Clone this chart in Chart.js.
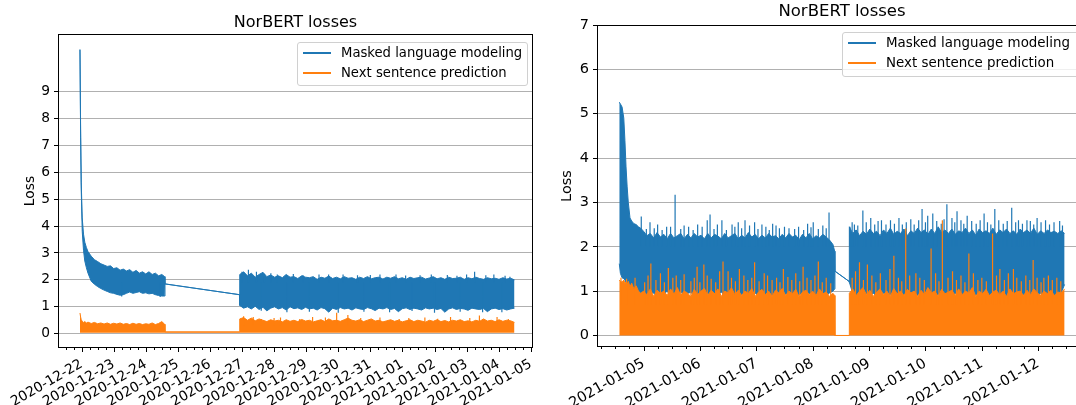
<!DOCTYPE html>
<html>
<head>
<meta charset="utf-8">
<script src="https://cdn.jsdelivr.net/npm/chart.js@4.4.0/dist/chart.umd.min.js"></script>
<style>
  body { margin: 0; background: #fff; font-family: 'DejaVu Sans', sans-serif; }
  #wrap { position: relative; width: 1076px; height: 405px; overflow: hidden; }
  #leftBox { position: absolute; left: 0; top: 0; }
  #rightBox { position: absolute; left: 540px; top: 0; }
  .legend { position: absolute; background: rgba(255,255,255,0.8); border: 1px solid #d0d0d0; border-radius: 3px;
            color: #000; box-sizing: border-box; }
  .legend div { position: relative; height: 20px; line-height: 20px; padding-left: 43px; white-space: nowrap; }
  .legend span { position: absolute; left: 5px; top: 9px; width: 28px; height: 2px; }
</style>
</head>
<body>
<div id="wrap">
  <div id="leftBox"><canvas id="leftChart" width="540" height="405"></canvas></div>
  <div id="rightBox"><canvas id="rightChart" width="560" height="405"></canvas></div>
  <div class="legend" style="left:297px;top:42px;width:231px;height:44px;font-size:13.2px;">
    <div><span style="background:#1f77b4"></span>Masked language modeling</div>
    <div><span style="background:#ff7f0e"></span>Next sentence prediction</div>
  </div>
  <div class="legend" style="left:842px;top:32px;width:250px;height:45px;font-size:13.4px;">
    <div><span style="background:#1f77b4"></span>Masked language modeling</div>
    <div><span style="background:#ff7f0e"></span>Next sentence prediction</div>
  </div>
</div>

<script>
const BLUE = '#1f77b4';
const ORANGE = '#ff7f0e';

// ---------- left panel: x = days after 2020-12-22 00:00 ----------
const leftDateLabels = ['2020-12-22', '2020-12-23', '2020-12-24', '2020-12-25', '2020-12-26', '2020-12-27',
  '2020-12-28', '2020-12-29', '2020-12-30', '2020-12-31', '2021-01-01', '2021-01-02', '2021-01-03',
  '2021-01-04', '2021-01-05'];
const leftYTicks = [0, 1, 2, 3, 4, 5, 6, 7, 8, 9];

const leftSeg1Days = [-0.05, -0.03, -0.01, 0.02, 0.06, 0.1, 0.15, 0.2, 0.3, 0.4, 0.5, 0.6, 0.7, 0.8, 0.9, 1.0,
  1.1, 1.2, 1.3, 1.4, 1.5, 1.6, 1.7, 1.8, 1.9, 2.0, 2.1, 2.2, 2.3, 2.4, 2.5, 2.59];
const leftSeg1MlmHi = [10.55, 7.6, 5.6, 4.3, 3.7, 3.4, 3.2, 3.05, 2.88, 2.75, 2.68, 2.6, 2.55, 2.5, 2.52, 2.42,
  2.45, 2.36, 2.4, 2.33, 2.38, 2.28, 2.35, 2.25, 2.3, 2.22, 2.3, 2.2, 2.25, 2.15, 2.2, 2.12];
const leftSeg1MlmLo = [10.55, 7.3, 5.3, 3.8, 3.1, 2.7, 2.45, 2.25, 1.95, 1.84, 1.75, 1.68, 1.62, 1.57, 1.52, 1.5,
  1.46, 1.43, 1.45, 1.5, 1.55, 1.5, 1.53, 1.56, 1.5, 1.52, 1.48, 1.5, 1.45, 1.42, 1.4, 1.4];
const leftSeg1NspHi = [0.77, 0.62, 0.52, 0.46, 0.42, 0.45, 0.4, 0.43, 0.38, 0.42, 0.37, 0.4, 0.36, 0.4, 0.35, 0.39,
  0.36, 0.4, 0.35, 0.38, 0.34, 0.39, 0.35, 0.38, 0.34, 0.37, 0.35, 0.4, 0.34, 0.38, 0.45, 0.35];

const leftBridgeDays = [2.6, 4.92];
const leftMlmBridge = [1.85, 1.45];
const leftNspBridge = [0.07, 0.07];

const leftSeg2Start = 4.93, leftSeg2Step = 0.1206;
const leftSeg2MlmHi = [2.2, 2.3, 2.15, 2.25, 2.1, 2.2, 2.28, 2.12, 2.18, 2.1,
  2.15, 2.08, 2.2, 2.1, 2.12, 2.05, 2.15, 2.1, 2.08, 2.12,
  2.02, 2.1, 2.06, 2.14, 2.05, 2.1, 2.04, 2.12, 2.06, 2.08,
  2.02, 2.1, 2.05, 2.12, 2.04, 2.08, 2.1, 2.03, 2.1, 2.06,
  2.12, 2.04, 2.08, 2.02, 2.1, 2.05, 2.08, 2.1, 2.03, 2.07,
  2.12, 2.04, 2.08, 2.02, 2.1, 2.05, 2.06, 2.1, 2.02, 2.08,
  2.04, 2.1, 2.05, 2.02, 2.08, 2.04, 2.06, 2.02, 2.08, 2.03,
  2.06, 2.0];
const leftSeg2MlmLo = [1.05, 0.95, 1.0, 0.92, 1.02, 0.9, 0.98, 0.85, 0.95, 1.0,
  0.92, 0.97, 0.88, 1.0, 0.93, 0.96, 0.9, 0.98, 0.92, 0.95,
  0.88, 0.97, 0.93, 0.8, 0.95, 0.9, 0.97, 0.92, 0.95, 0.88,
  0.96, 0.92, 0.9, 0.97, 0.93, 0.86, 0.95, 0.92, 0.97, 0.9,
  0.94, 0.82, 0.93, 0.96, 0.9, 0.95, 0.92, 0.88, 0.96, 0.92,
  0.95, 0.9, 0.94, 0.8, 0.92, 0.96, 0.9, 0.94, 0.92, 0.87,
  0.95, 0.92, 0.9, 0.94, 0.82, 0.92, 0.95, 0.9, 0.93, 0.88,
  0.92, 0.95];
const leftSeg2NspHi = [0.55, 0.6, 0.5, 0.58, 0.48, 0.55, 0.5, 0.45, 0.52, 0.47,
  0.5, 0.44, 0.52, 0.46, 0.5, 0.45, 0.53, 0.47, 0.5, 0.44,
  0.48, 0.52, 0.45, 0.55, 0.48, 0.5, 0.46, 0.52, 0.58, 0.5,
  0.47, 0.52, 0.45, 0.5, 0.55, 0.47, 0.5, 0.44, 0.48, 0.52,
  0.46, 0.5, 0.44, 0.48, 0.52, 0.45, 0.5, 0.47, 0.43, 0.5,
  0.46, 0.52, 0.45, 0.49, 0.44, 0.5, 0.47, 0.52, 0.45, 0.48,
  0.44, 0.5, 0.46, 0.55, 0.47, 0.5, 0.45, 0.52, 0.46, 0.5,
  0.48, 0.42];

// single spikes: [day, value] (up or down from the band)
const leftMlmSpikes = [[1.25, 1.38], [2.45, 1.36],
  [5.0, 2.3], [5.2, 2.38], [5.45, 2.3], [5.7, 2.22], [5.9, 2.25], [6.1, 2.2], [6.6, 2.22], [6.9, 2.18],
  [7.4, 2.2], [7.7, 2.2], [8.15, 2.2], [8.6, 2.17], [9.0, 2.18], [9.3, 2.2], [9.8, 2.2], [10.1, 2.16],
  [10.55, 2.17], [10.9, 2.2], [11.4, 2.18], [11.7, 2.15], [12.0, 2.2], [12.25, 2.3], [12.6, 2.17],
  [12.85, 2.2], [13.2, 2.15], [13.35, 2.12],
  [5.6, 0.85], [6.4, 0.8], [7.1, 0.82], [8.0, 0.78], [8.8, 0.82], [9.6, 0.8], [10.3, 0.84], [11.0, 0.78],
  [11.8, 0.82], [12.5, 0.8], [13.1, 0.8]];
const leftNspSpikes = [[5.05, 0.65], [5.35, 0.62], [5.6, 0.55], [6.0, 0.58], [6.2, 0.6], [6.8, 0.55],
  [7.2, 0.62], [7.6, 0.6], [7.95, 0.78], [8.3, 0.7], [8.7, 0.58], [9.3, 0.6], [9.9, 0.55], [10.2, 0.58],
  [10.7, 0.6], [11.1, 0.56], [11.5, 0.62], [12.1, 0.58], [12.4, 0.68], [12.95, 0.62], [13.3, 0.55]];

// ---------- right panel: x = days after 2021-01-05 00:00 ----------
const rightDateLabels = ['2021-01-05', '2021-01-06', '2021-01-07', '2021-01-08', '2021-01-09', '2021-01-10',
  '2021-01-11', '2021-01-12'];
const rightYTicks = [0, 1, 2, 3, 4, 5, 6, 7];

const rightSeg1Head = [-0.43, -0.41, -0.38, -0.35, -0.33, -0.31, -0.29, -0.27, -0.24, -0.21, -0.17, -0.13, -0.09, -0.05];
const rightSeg1Start = 0, rightSeg1Step = 0.06, rightSeg1End = 3.39;
const rightSeg1MlmHi = [5.26, 5.22, 5.15, 4.9, 4.4, 3.8, 3.35, 3.0, 2.65, 2.58, 2.52, 2.5, 2.45, 2.42,
  2.35, 2.25, 2.3, 2.2, 2.32, 2.22, 2.28, 2.18, 2.3, 2.2,
  2.25, 2.3, 2.18, 2.28, 2.2, 2.3, 2.22, 2.26, 2.18, 2.3,
  2.2, 2.28, 2.24, 2.18, 2.3, 2.2, 2.25, 2.3, 2.18, 2.26,
  2.2, 2.32, 2.22, 2.28, 2.18, 2.26, 2.2, 2.3, 2.22, 2.25,
  2.18, 2.28, 2.2, 2.3, 2.22, 2.26, 2.16, 2.28, 2.2, 2.3,
  2.18, 2.25, 2.2, 2.28, 2.22, 2.15, 2.05,
  1.9];
const rightSeg1MlmLo = [1.62, 1.4, 1.3, 1.28, 1.25, 1.2, 1.15, 1.1, 1.05, 1.0, 1.02, 0.98, 1.0, 0.95,
  0.98, 0.92, 1.0, 0.95, 0.9, 0.97, 0.93, 1.0, 0.88, 0.95,
  0.92, 0.98, 0.9, 0.95, 0.97, 0.9, 0.93, 0.98, 0.92, 0.95,
  0.88, 0.96, 0.92, 0.98, 0.9, 0.94, 0.97, 0.9, 0.95, 0.92,
  0.98, 0.9, 0.94, 0.96, 0.88, 0.95, 0.92, 0.97, 0.9, 0.94,
  0.96, 0.9, 0.93, 0.97, 0.88, 0.95, 0.92, 0.96, 0.9, 0.94,
  0.97, 0.9, 0.93, 0.95, 0.9, 0.96, 1.0,
  1.05];
const rightSeg1NspHi = [1.25, 1.22, 1.2, 1.25, 1.18, 1.2, 1.15, 1.22, 1.1, 1.18, 1.05, 1.12, 1.0, 0.95,
  1.0, 0.92, 1.05, 0.88, 1.02, 0.95, 1.0, 0.9, 1.05, 0.93,
  1.08, 0.9, 1.0, 0.96, 0.87, 1.04, 0.92, 1.0, 1.06, 0.9,
  1.02, 0.94, 1.05, 0.88, 1.0, 0.96, 1.08, 0.92, 1.02, 0.9,
  1.0, 0.95, 1.06, 0.88, 0.98, 1.04, 0.92, 1.0, 0.88, 1.02,
  0.96, 1.06, 0.9, 1.0, 0.94, 1.04, 0.87, 0.98, 1.02, 0.92,
  1.0, 0.9, 1.05, 0.94, 0.98, 0.88, 0.95,
  0.9];

const rightBridgeDays = [3.395, 3.645];
const rightMlmBridge = [1.45, 1.22];
const rightNspBridge = [0, 0];

const rightSeg2Start = 3.65, rightSeg2Step = 0.0606;
const rightSeg2MlmHi = [2.45, 2.3, 2.38, 2.25, 2.35, 2.28, 2.4, 2.3, 2.35, 2.25,
  2.38, 2.3, 2.42, 2.28, 2.35, 2.3, 2.4, 2.25, 2.36, 2.3,
  2.42, 2.32, 2.38, 2.28, 2.4, 2.3, 2.45, 2.32, 2.38, 2.3,
  2.4, 2.28, 2.36, 2.32, 2.42, 2.3, 2.38, 2.26, 2.4, 2.32,
  2.36, 2.3, 2.42, 2.28, 2.38, 2.32, 2.4, 2.3, 2.36, 2.28,
  2.4, 2.32, 2.38, 2.3, 2.42, 2.28, 2.36, 2.3, 2.38, 2.32,
  2.35, 2.3, 2.36, 2.3];
const rightSeg2MlmLo = [1.2, 0.95, 0.9, 0.97, 0.88, 0.94, 0.9, 0.96, 0.86, 0.92,
  0.95, 0.88, 0.93, 0.9, 0.96, 0.87, 0.92, 0.95, 0.88, 0.93,
  0.9, 0.96, 0.85, 0.92, 0.94, 0.88, 0.93, 0.9, 0.95, 0.87,
  0.92, 0.95, 0.88, 0.93, 0.9, 0.96, 0.86, 0.92, 0.94, 0.88,
  0.93, 0.9, 0.95, 0.87, 0.92, 0.95, 0.88, 0.93, 0.9, 0.96,
  0.87, 0.92, 0.94, 0.88, 0.93, 0.9, 0.95, 0.88, 0.92, 0.95,
  0.9, 0.93, 0.96, 1.15];
const rightSeg2NspHi = [0.95, 1.05, 0.9, 1.0, 1.08, 0.92, 1.02, 0.88, 0.98, 1.05,
  0.92, 1.0, 0.88, 1.06, 0.94, 1.0, 0.9, 1.04, 0.96, 1.0,
  0.88, 1.02, 0.92, 1.08, 0.96, 1.0, 0.88, 1.04, 0.94, 0.98,
  1.02, 0.9, 1.05, 0.92, 1.0, 0.96, 1.08, 0.88, 1.0, 0.94,
  1.04, 0.9, 0.98, 1.02, 0.92, 1.0, 0.88, 1.05, 0.94, 0.98,
  1.0, 0.9, 1.02, 0.92, 1.05, 0.96, 0.9, 1.0, 0.94, 1.02,
  0.9, 0.98, 0.96, 1.05];

const rightMlmSpikes = [[-0.04, 2.68], [0.05, 2.4], [0.115, 2.55], [0.19, 2.42], [0.25, 2.5], [0.33, 2.38],
  [0.41, 2.45], [0.48, 2.45], [0.56, 3.17], [0.66, 2.4], [0.72, 2.48], [0.8, 2.45], [0.88, 2.38], [0.96, 2.5],
  [1.04, 2.45], [1.13, 2.6], [1.18, 2.73], [1.25, 2.4], [1.31, 2.5], [1.39, 2.6], [1.47, 2.38], [1.57, 2.5],
  [1.62, 2.45], [1.68, 2.55], [1.74, 2.42], [1.8, 2.6], [1.88, 2.48], [1.97, 2.55], [2.03, 2.4], [2.1, 2.5],
  [2.17, 2.45], [2.23, 2.38], [2.29, 2.52], [2.35, 2.48], [2.41, 2.42], [2.5, 2.45], [2.58, 2.42], [2.68, 2.4],
  [2.75, 2.45], [2.84, 2.38], [2.91, 2.52], [2.97, 2.44], [3.01, 2.55], [3.1, 2.4], [3.18, 2.48], [3.24, 2.42],
  [3.29, 2.77],
  [3.66, 2.45], [3.7, 2.55], [3.74, 2.5], [3.8, 2.48], [3.89, 2.82], [3.95, 2.55], [4.03, 2.65], [4.1, 2.5],
  [4.16, 2.58], [4.22, 2.6], [4.3, 2.5], [4.38, 2.6], [4.45, 2.52], [4.53, 2.65], [4.59, 2.5], [4.66, 2.55],
  [4.74, 2.62], [4.8, 2.5], [4.88, 2.6], [4.94, 2.85], [5.0, 2.55], [5.04, 2.7], [5.13, 2.75], [5.2, 2.58],
  [5.28, 2.52], [5.33, 2.62], [5.38, 2.96], [5.47, 2.65], [5.52, 2.55], [5.56, 2.8], [5.63, 2.6], [5.68, 2.52],
  [5.74, 2.7], [5.82, 2.58], [5.9, 2.52], [5.97, 2.6], [6.04, 2.75], [6.1, 2.55], [6.16, 2.5], [6.23, 2.85],
  [6.3, 2.6], [6.38, 2.52], [6.45, 2.58], [6.53, 2.88], [6.6, 2.55], [6.65, 2.6], [6.72, 2.52], [6.8, 2.6],
  [6.86, 2.58], [6.92, 2.5], [6.98, 2.65], [7.05, 2.55], [7.13, 2.6], [7.2, 2.5], [7.28, 2.55], [7.38, 2.58],
  [7.43, 2.48]];
const rightNspSpikes = [[-0.4, 1.3], [-0.3, 1.28], [-0.15, 1.3], [0.02, 1.2], [0.08, 1.35], [0.13, 1.62],
  [0.22, 1.25], [0.3, 1.4], [0.37, 1.2], [0.44, 1.52], [0.52, 1.3], [0.58, 1.35], [0.66, 1.25], [0.72, 1.38],
  [0.84, 1.22], [0.9, 1.3], [0.95, 1.55], [1.0, 1.2], [1.07, 1.6], [1.13, 1.35], [1.2, 1.28], [1.28, 1.2],
  [1.35, 1.45], [1.41, 1.67], [1.5, 1.45], [1.56, 1.3], [1.63, 1.22], [1.7, 1.5], [1.78, 1.35], [1.85, 1.25],
  [1.92, 1.3], [1.97, 1.65], [2.05, 1.22], [2.14, 1.4], [2.2, 1.35], [2.28, 1.25], [2.36, 1.3], [2.42, 1.2],
  [2.48, 1.5], [2.56, 1.32], [2.63, 1.25], [2.7, 1.4], [2.77, 1.22], [2.83, 1.55], [2.9, 1.3], [2.97, 1.25],
  [3.04, 1.35], [3.1, 1.67], [3.17, 1.2], [3.24, 1.3], [3.32, 1.18],
  [3.7, 1.3], [3.76, 1.45], [3.83, 1.65], [3.9, 1.25], [3.97, 1.6], [4.05, 1.35], [4.12, 1.2], [4.2, 1.4],
  [4.3, 1.25], [4.37, 1.5], [4.44, 1.8], [4.52, 1.3], [4.58, 1.22], [4.65, 2.41], [4.72, 1.35], [4.83, 1.4],
  [4.9, 1.3], [4.98, 1.25], [5.1, 1.96], [5.18, 1.4], [5.24, 1.22], [5.3, 2.6], [5.4, 1.3], [5.48, 1.45],
  [5.55, 1.25], [5.63, 1.35], [5.7, 1.2], [5.77, 1.85], [5.85, 1.4], [5.93, 1.25], [6.0, 1.3], [6.08, 1.22],
  [6.19, 2.3], [6.26, 1.35], [6.32, 1.5], [6.4, 1.25], [6.47, 1.4], [6.56, 1.5], [6.62, 1.3], [6.7, 1.22],
  [6.78, 1.35], [6.85, 1.25], [6.91, 1.7], [6.98, 1.3], [7.05, 1.2], [7.1, 1.3], [7.18, 1.35], [7.25, 1.25],
  [7.33, 1.3], [7.4, 1.22]];

// ---------- helpers ----------
function steps(start, step, n) {
  const out = [];
  for (let i = 0; i < n; i++) out.push(+(start + i * step).toFixed(4));
  return out;
}
function pts(days, vals) {
  return days.map((d, i) => ({ x: d, y: vals[i] }));
}
function needles(list, base) {
  const out = [];
  list.forEach(([d, v]) => out.push({ x: d, y: base }, { x: d, y: v }, { x: d, y: null }));
  return out;
}

// axis frame, minor/major x ticks and title
const frame = {
  id: 'frame',
  afterDraw(chart, args, o) {
    const { ctx, chartArea: a, scales: { x } } = chart;
    ctx.save();
    ctx.strokeStyle = '#000';
    ctx.lineWidth = 1;
    ctx.beginPath();
    for (let q = Math.ceil(x.min * 4); q <= Math.floor(x.max * 4); q++) {
      const px = Math.round(x.getPixelForValue(q / 4)) + 0.5;
      ctx.moveTo(px, a.bottom);
      ctx.lineTo(px, a.bottom + (q % 4 === 0 ? 4 : 2));
    }
    ctx.stroke();
    ctx.strokeRect(Math.round(a.left) + 0.5, Math.round(a.top) + 0.5,
      Math.round(a.right - a.left) - 1, Math.round(a.bottom - a.top) - 1);
    ctx.fillStyle = '#000';
    ctx.font = o.titleSize + 'px "DejaVu Sans"';
    ctx.textAlign = 'center';
    ctx.textBaseline = 'middle';
    ctx.fillText(o.title, (a.left + a.right) / 2, o.titleY);
    ctx.restore();
  }
};

function buildPanel(id, p) {
  const mlmHi = [...pts(p.seg1Days, p.seg1MlmHi), ...pts(p.bridgeDays, p.mlmBridge), ...pts(p.seg2Days, p.seg2MlmHi)];
  const mlmLo = [...pts(p.seg1Days, p.seg1MlmLo), ...pts(p.bridgeDays, p.mlmBridge), ...pts(p.seg2Days, p.seg2MlmLo)];
  const nspHi = [...pts(p.seg1Days, p.seg1NspHi), ...pts(p.bridgeDays, p.nspBridge), ...pts(p.seg2Days, p.seg2NspHi)];
  const font = { family: 'DejaVu Sans', size: p.fontSize };

  new Chart(document.getElementById(id), {
    type: 'line',
    data: {
      datasets: [
        { data: needles(p.nspSpikes, p.nspBase), borderColor: ORANGE, borderWidth: 1.2, fill: false, spanGaps: false },
        { data: nspHi, borderColor: ORANGE, backgroundColor: ORANGE, borderWidth: 1, fill: p.nspFill },
        { data: needles(p.mlmSpikes, p.mlmBase), borderColor: BLUE, borderWidth: 1.2, fill: false, spanGaps: false },
        { data: mlmHi, borderColor: BLUE, backgroundColor: BLUE, borderWidth: 1, fill: '+1' },
        { data: mlmLo, borderColor: BLUE, borderWidth: 1, fill: false }
      ]
    },
    options: {
      responsive: false,
      animation: false,
      events: [],
      elements: { point: { radius: 0 }, line: { tension: 0 } },
      layout: { padding: { top: p.top, right: p.right, left: 0, bottom: 0 } },
      plugins: {
        legend: { display: false },
        tooltip: { enabled: false },
        frame: { title: 'NorBERT losses', titleY: p.titleY, titleSize: p.titleSize }
      },
      scales: {
        x: {
          type: 'linear', min: p.xMin, max: p.xMax, offset: false,
          grid: { display: false, drawTicks: false },
          border: { display: false },
          afterBuildTicks: s => { s.ticks = p.xLabels.map((_, i) => ({ value: i })); },
          afterFit: s => { s.height = p.xAxisHeight; s.paddingLeft = 0; s.paddingRight = 0; },
          ticks: {
            autoSkip: false, minRotation: 30, maxRotation: 30, padding: 8, color: '#000', font,
            callback: v => p.xLabels[Math.round(v)]
          }
        },
        y: {
          type: 'linear', min: p.yMin, max: p.yMax,
          grid: { color: '#b0b0b0', lineWidth: 1, tickColor: '#000', tickLength: 4 },
          border: { display: false },
          afterBuildTicks: s => { s.ticks = p.yTicks.map(v => ({ value: v })); },
          afterFit: s => { s.width = p.yAxisWidth; s.paddingTop = 0; s.paddingBottom = 0; },
          ticks: { padding: 4, color: '#000', font, callback: v => String(v) },
          title: { display: true, text: 'Loss', color: '#000', font, padding: { top: p.yTitlePad, bottom: 0 } }
        }
      }
    },
    plugins: [frame]
  });
}

buildPanel('leftChart', {
  seg1Days: leftSeg1Days, seg1MlmHi: leftSeg1MlmHi, seg1MlmLo: leftSeg1MlmLo, seg1NspHi: leftSeg1NspHi,
  bridgeDays: leftBridgeDays, mlmBridge: leftMlmBridge, nspBridge: leftNspBridge,
  seg2Days: steps(leftSeg2Start, leftSeg2Step, leftSeg2MlmHi.length),
  seg2MlmHi: leftSeg2MlmHi, seg2MlmLo: leftSeg2MlmLo, seg2NspHi: leftSeg2NspHi,
  mlmSpikes: leftMlmSpikes, nspSpikes: leftNspSpikes, mlmBase: 1.9, nspBase: 0.3,
  nspFill: { value: 0.04 },
  xLabels: leftDateLabels, yTicks: leftYTicks,
  xMin: -0.735, xMax: 14.07, yMin: -0.53, yMax: 11.13,
  top: 34, right: 7, xAxisHeight: 57, yAxisWidth: 58, yTitlePad: 22,
  titleY: 22.7, titleSize: 16, fontSize: 13.8
});

buildPanel('rightChart', {
  seg1Days: [...rightSeg1Head, ...steps(rightSeg1Start, rightSeg1Step, 57), rightSeg1End],
  seg1MlmHi: rightSeg1MlmHi, seg1MlmLo: rightSeg1MlmLo, seg1NspHi: rightSeg1NspHi,
  bridgeDays: rightBridgeDays, mlmBridge: rightMlmBridge, nspBridge: rightNspBridge,
  seg2Days: steps(rightSeg2Start, rightSeg2Step, rightSeg2MlmHi.length),
  seg2MlmHi: rightSeg2MlmHi, seg2MlmLo: rightSeg2MlmLo, seg2NspHi: rightSeg2NspHi,
  mlmSpikes: rightMlmSpikes, nspSpikes: rightNspSpikes, mlmBase: 2.0, nspBase: 0.7,
  nspFill: 'origin',
  xLabels: rightDateLabels, yTicks: rightYTicks,
  xMin: -0.825, xMax: 7.865, yMin: -0.26, yMax: 7,
  top: 25, right: 13, xAxisHeight: 58, yAxisWidth: 57, yTitlePad: 19,
  titleY: 11.7, titleSize: 16.5, fontSize: 14.5
});
</script>
</body>
</html>
